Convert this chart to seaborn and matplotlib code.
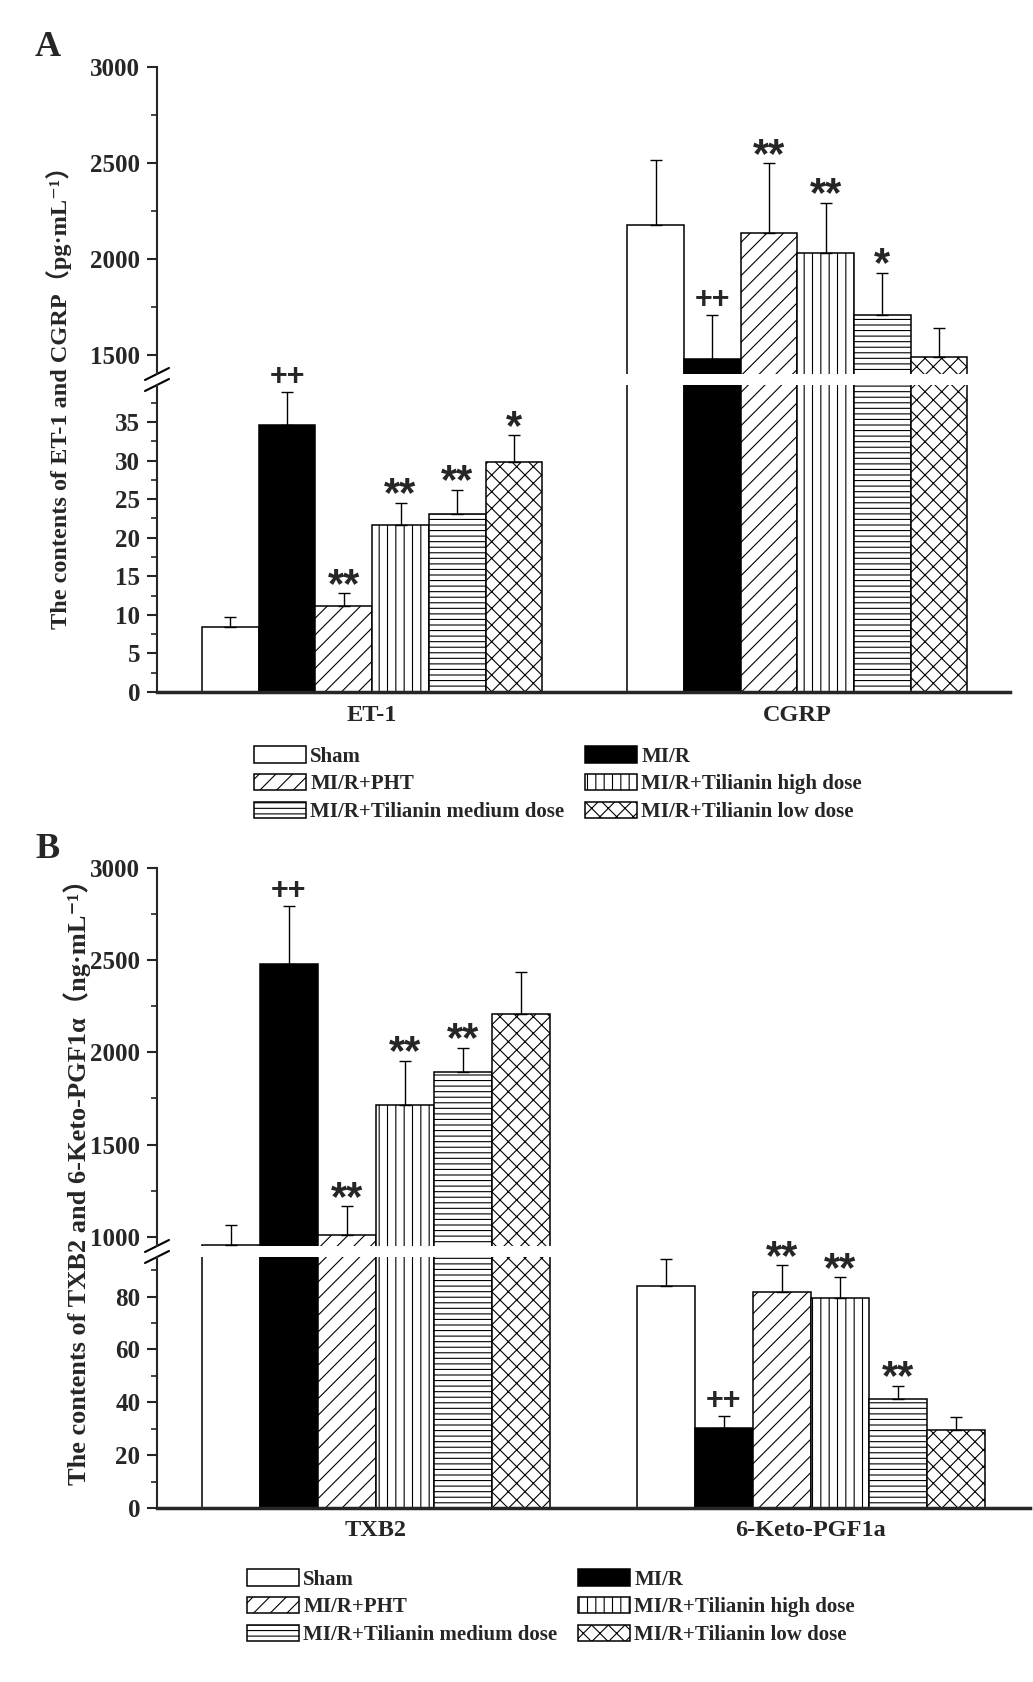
import numpy as np
import pandas as pd
import seaborn as sns
import matplotlib.pyplot as plt
from matplotlib.patches import Patch
from matplotlib.ticker import MultipleLocator

groups = ["Sham", "MI/R", "MI/R+PHT", "MI/R+Tilianin high dose",
          "MI/R+Tilianin medium dose", "MI/R+Tilianin low dose"]
group_colors = ["white", "black", "white", "white", "white", "white"]
group_hatches = ["", "", "//", "||", "---", "xx"]

markers_a = ["ET-1", "CGRP"]
et1_mean = [8.4, 34.6, 11.1, 21.7, 23.1, 29.8]
et1_sd = [1.3, 4.3, 1.7, 2.8, 3.1, 3.5]
et1_sig = ["", "++", "**", "**", "**", "*"]
cgrp_mean = [2176, 1479, 2136, 2032, 1708, 1491]
cgrp_sd = [337, 231, 363, 260, 219, 151]
cgrp_sig = ["", "++", "**", "**", "*", ""]

markers_b = ["TXB2", "6-Keto-PGF1a"]
txb2_mean = [957, 2480, 1012, 1713, 1892, 2209]
txb2_sd = [109, 314, 154, 242, 134, 227]
txb2_sig = ["", "++", "**", "**", "**", ""]
keto_mean = [84.2, 30.3, 81.8, 79.6, 41.1, 29.5]
keto_sd = [9.9, 4.5, 10.0, 7.8, 5.2, 4.8]
keto_sig = ["", "++", "**", "**", "**", ""]

W, H = 1033, 1682

sns.set_style("ticks")
plt.rcParams["font.family"] = ["Liberation Serif", "DejaVu Serif", "Noto Sans CJK SC"]
plt.rcParams["font.weight"] = "bold"
plt.rcParams["hatch.linewidth"] = 0.8
plt.rcParams["hatch.color"] = "black"


def make_frame(markers, means, sds, sigs):
    rows = []
    for m, mean, sd, sig in zip(markers, means, sds, sigs):
        for g, v, s, t in zip(groups, mean, sd, sig):
            rows.append({"marker": m, "group": g, "value": v, "sd": s, "sig": t})
    return pd.DataFrame(rows)


def px_rect(left, right, top, bottom):
    return [left / W, 1 - bottom / H, (right - left) / W, (bottom - top) / H]


def draw_panel(fig, rect_top, rect_bot, df, markers, top_lim, bot_lim,
               top_step, bot_step, xlim):
    ax_top = fig.add_axes(rect_top)
    ax_bot = fig.add_axes(rect_bot)
    for ax in (ax_top, ax_bot):
        sns.barplot(data=df, x="marker", y="value", hue="group",
                    order=markers, hue_order=groups,
                    palette=dict(zip(groups, group_colors)), saturation=1,
                    edgecolor="black", linewidth=1.1, errorbar=None,
                    width=0.8, legend=False, ax=ax)
        for cont, hatch in zip(ax.containers, group_hatches):
            for bar in cont:
                bar.set_hatch(hatch)
        for cont, g in zip(ax.containers, groups):
            sub = df[df.group == g].set_index("marker").loc[markers]
            for bar, sd, sig in zip(cont, sub["sd"], sub["sig"]):
                x = bar.get_x() + bar.get_width() / 2
                y = bar.get_height()
                ax.errorbar(x, y, yerr=[[0], [sd]], fmt="none", ecolor="black",
                            elinewidth=1, capsize=4.5, capthick=1)
                if sig and ax is (ax_bot if y + sd < bot_lim[1] else ax_top):
                    star = "*" in sig
                    ax.annotate(sig, (x, y + sd),
                                xytext=(0, -9 if star else 0),
                                textcoords="offset points", ha="center",
                                va="bottom", fontsize=30 if star else 22,
                                fontweight="bold", family="Liberation Sans",
                                annotation_clip=False)
        ax.set_xlim(*xlim)
        ax.set_xlabel("")
        ax.set_ylabel("")
        ax.spines["right"].set_visible(False)
        ax.spines["top"].set_visible(False)
        ax.spines["left"].set_linewidth(1.5)
        ax.tick_params(axis="y", which="major", length=7, width=1.5,
                       labelsize=18, pad=5)
        ax.tick_params(axis="y", which="minor", length=4, width=1.2)

    ax_top.set_ylim(*top_lim)
    ax_top.yaxis.set_major_locator(MultipleLocator(top_step))
    ax_top.yaxis.set_minor_locator(MultipleLocator(top_step / 2))
    ax_top.spines["bottom"].set_visible(False)
    ax_top.tick_params(axis="x", bottom=False, labelbottom=False)

    ax_bot.set_ylim(*bot_lim)
    ax_bot.yaxis.set_major_locator(MultipleLocator(bot_step))
    ax_bot.yaxis.set_minor_locator(MultipleLocator(bot_step / 2))
    ax_bot.spines["bottom"].set_linewidth(2.5)
    ax_bot.tick_params(axis="x", length=0, labelsize=17.5, pad=9)
    for lab in ax_bot.get_xticklabels():
        lab.set_fontweight("bold")

    # break marks on the y axis
    for ax, rect, yy in ((ax_top, rect_top, 0.0), (ax_bot, rect_bot, 1.0)):
        dx = 12 / (rect[2] * W)
        dy = 6 / (rect[3] * H)
        ax.plot([-dx, dx], [yy - dy, yy + dy], transform=ax.transAxes,
                color="black", lw=1.5, clip_on=False)
    return ax_top, ax_bot


fig = plt.figure(figsize=(W / 100, H / 100), dpi=100)

df_a = make_frame(markers_a, [et1_mean, cgrp_mean], [et1_sd, cgrp_sd],
                  [et1_sig, cgrp_sig])
draw_panel(fig, px_rect(157, 1010, 67, 374), px_rect(157, 1010, 385, 692),
           df_a, markers_a, (1400, 3000), (0, 39.8), 500, 5, (-0.506, 1.50))

df_b = make_frame(markers_b, [txb2_mean, keto_mean], [txb2_sd, keto_sd],
                  [txb2_sig, keto_sig])
draw_panel(fig, px_rect(157, 1030, 868, 1246), px_rect(157, 1030, 1257, 1508),
           df_b, markers_b, (950, 3000), (0, 95), 500, 20, (-0.503, 1.504))

fig.text(35 / W, 1 - 47 / H, "A", fontsize=26, fontweight="bold", va="center")
fig.text(35 / W, 1 - 849 / H, "B", fontsize=26, fontweight="bold", va="center")

fig.text(59 / W, 1 - 392 / H, "The contents of ET-1 and CGRP（pg·mL⁻¹）",
         rotation=90, ha="center", va="center", fontsize=17.5, fontweight="bold")
fig.text(77 / W, 1 - 1176 / H, "The contents of TXB2 and 6-Keto-PGF1α（ng·mL⁻¹）",
         rotation=90, ha="center", va="center", fontsize=19, fontweight="bold")

handles = [Patch(facecolor=c, edgecolor="black", hatch=h, linewidth=1.1)
           for c, h in zip(group_colors, group_hatches)]
order = [0, 2, 4, 1, 3, 5]
for x0, y0 in ((254, 746), (247, 1569)):
    fig.legend([handles[i] for i in order], [groups[i] for i in order],
               ncol=2, loc="upper left", bbox_to_anchor=(x0 / W, 1 - y0 / H),
               frameon=False, borderpad=0, borderaxespad=0,
               handlelength=2.5, handleheight=0.85, handletextpad=0.2,
               labelspacing=0.35, columnspacing=1.0,
               prop={"weight": "bold", "size": 15})

fig.savefig("out.png", dpi=100)
